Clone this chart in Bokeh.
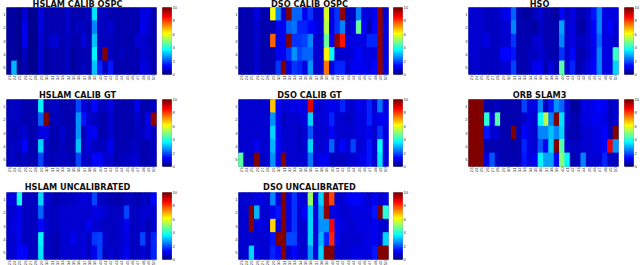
from bokeh.plotting import figure
from bokeh.layouts import column, row
from bokeh.embed import file_html
from bokeh.resources import INLINE
from bokeh.models import LinearColorMapper, FixedTicker, ColumnDataSource
from bokeh.core.properties import value
import numpy as np

x_labels = ["23","24","25","26","27","28","29","30","31","32","33","34","35","36","37","38","39","40","41","42","43","44","45","46","47","48","49","50"]
y_labels = ["1","2","3","4","5"]

hslam_calib_ospc = [
 [.4,.4,.3,.9,.3,.3,1.0,.5,.6,.6,.6,.9,.5,.6,.6,.7,3.5,.7,.7,.6,.5,.5,.6,.5,.5,1.0,1.0,.6],
 [.4,.4,.3,1.1,.3,.3,1.0,.5,.6,.6,.5,.8,.5,.7,.7,.6,2.5,.7,.7,.8,.5,.5,.6,.5,.5,1.2,.9,.6],
 [.4,.4,.3,1.1,.3,.3,.9,.5,.9,.9,.5,.7,.5,.6,1.0,.6,3.2,.7,.7,.7,.5,.5,.6,.5,.9,.9,.7,.6],
 [.4,.4,.3,.7,.3,.3,.8,.4,.5,.6,.6,.7,.4,.6,.6,.6,3.7,.7,10,.7,.5,.7,.5,.5,.5,.8,.7,.6],
 [.4,3.0,.3,.6,.3,.3,.8,.4,.5,.5,.6,.7,.4,.6,.7,.6,3.2,1.6,.7,1.5,.5,.5,.6,.5,.5,1.0,.8,.6],
]
dso_calib_ospc = [
 [.5,.5,.5,1.0,.6,.6,6.2,2.5,.8,10,2.2,2.2,1.2,1.8,.8,.8,5.8,1.0,1.8,9.7,.7,.7,2.5,1.0,.8,1.2,9.8,.8],
 [.5,.5,.5,.8,.6,.6,.6,1.2,1.1,2.3,2.4,1.7,1.7,1.4,1.1,.8,5.5,1.0,1.8,2.5,.7,1.0,4.8,1.3,.6,1.4,9.8,1.0],
 [.5,.5,.5,.8,.6,.6,7.8,1.0,1.2,9.9,1.8,1.8,2.0,2.5,.8,.8,4.8,1.3,9.8,8.5,1.0,1.0,1.0,1.0,1.6,1.6,9.8,1.0],
 [.5,.5,.5,.8,.6,.6,.6,1.2,1.1,1.8,2.7,2.0,2.2,2.2,.8,.8,6.3,3.9,.9,.9,.8,1.0,1.4,1.0,1.0,1.0,9.8,1.0],
 [.5,.5,.5,.8,.6,.6,.6,1.8,9.9,1.0,1.8,1.6,1.0,2.8,.8,.8,7.5,1.0,1.6,1.7,.8,1.1,1.1,1.1,1.0,1.4,9.8,1.0],
]
hso = [
 [.8,.9,.8,.7,.7,.7,1.0,1.1,2.2,.6,.4,.4,.7,.9,.6,.6,.4,1.4,.7,1.0,.5,.5,.9,1.5,2.5,1.0,1.0,1.0],
 [.8,.8,.8,.7,.7,.7,.8,.8,2.5,.6,.6,.5,.4,.7,.6,.6,.5,2.9,.9,1.0,.6,.4,.9,1.3,2.5,1.0,1.3,.9],
 [.8,.8,.8,1.0,.7,.7,.8,.8,1.8,.5,.5,.6,.8,.9,.6,.6,.6,2.6,.9,1.0,.7,.7,.9,1.2,2.2,1.0,1.0,.9],
 [.8,.8,.7,.7,.7,.7,1.4,1.4,1.5,.6,.6,.7,.7,.9,.7,.6,.6,1.8,.8,1.3,.6,.6,.9,1.1,2.6,1.0,1.0,4.3],
 [.7,.9,.7,.7,.7,.7,.8,.9,2.0,.6,.6,.7,1.1,1.1,.6,1.0,.5,4.6,.8,1.6,.6,.7,1.0,1.4,2.5,1.0,1.0,3.4],
]
hslam_calib_gt = [
 [.7,.7,.7,.6,.6,.6,3.6,.6,.7,.7,.6,.6,.6,2.0,1.0,.7,1.3,.7,.7,1.0,.5,.5,.6,.6,1.1,.5,.5,.7],
 [.7,.7,.7,.6,.6,.6,2.2,9.9,.6,.7,.6,.6,.6,2.7,1.5,.8,.7,.5,.6,.9,.5,.6,.6,.6,.8,.5,1.1,9.8],
 [.7,.6,.7,.8,.6,.6,1.0,1.0,.6,.6,.8,.6,.5,2.8,.5,1.2,1.1,.6,.6,.8,.6,.6,.6,.6,.7,.7,1.0,.7],
 [.7,.7,.7,1.3,.6,.6,3.3,.7,.6,.6,.7,.6,.5,3.2,.7,1.0,.7,.7,.7,1.2,.6,.6,.6,.7,.7,.6,.6,.7],
 [.7,.7,.6,.7,.6,.6,2.0,.7,.6,.7,.7,.7,.6,2.0,.9,.7,1.4,1.4,.9,.8,.6,.7,.7,.9,.9,.6,.6,.7],
]
dso_calib_gt = [
 [.9,.9,.9,.9,.9,.8,6.8,1.3,.9,1.0,1.0,1.1,1.0,9.0,.9,.9,1.0,1.1,1.0,1.7,.8,.9,1.1,1.0,1.6,.8,2.4,1.0],
 [.9,.8,.8,.8,.8,.9,2.8,1.2,.7,.9,.9,.9,1.0,3.4,.9,.9,1.0,1.6,.9,.9,.7,.9,1.0,1.0,1.6,1.0,1.2,1.2],
 [.9,.9,.9,.9,.9,.9,3.4,1.1,.8,.9,.8,.7,.8,2.1,.8,.9,.9,1.3,.9,.9,.8,.9,1.0,1.0,1.2,.8,1.8,1.0],
 [.9,.9,.9,1.1,.8,.9,3.1,1.3,.8,.9,.8,.7,.8,3.3,.8,.9,1.0,2.2,.9,1.4,.8,1.9,.9,1.0,1.5,.8,3.9,1.0],
 [4.6,.7,.7,9.9,.7,.8,2.7,1.1,9.9,.8,.8,.8,.9,2.4,.8,1.1,1.1,.7,.7,.7,.8,.9,1.0,1.1,1.5,.8,3.5,1.0],
]
orb_slam3 = [
 [9.9,9.9,9.9,.5,.5,.7,.5,.5,.5,.5,2.0,1.0,1.0,2.6,.7,1.5,2.8,2.2,.9,.4,.4,1.0,1.0,1.2,1.4,1.1,.7,.9],
 [9.9,9.9,9.9,4.2,1.0,4.6,.5,.5,.5,.5,.9,1.0,.9,3.9,5.6,2.5,9.9,3.5,.9,.5,.6,1.0,1.0,1.1,1.1,1.0,.7,.8],
 [9.9,9.9,9.9,1.5,.8,.8,.5,.5,9.9,.5,1.3,1.0,.9,2.6,2.6,3.2,2.6,3.4,.7,.5,.6,.9,.9,1.0,1.0,1.4,.7,9.9],
 [9.9,9.9,9.9,.5,.5,.6,.5,.5,.4,.5,1.6,1.0,.9,2.1,1.1,3.3,9.9,4.6,.9,.7,.7,.9,.9,1.0,1.0,1.4,8.8,2.7],
 [9.9,9.9,9.9,1.0,2.1,.7,.6,.6,.6,.5,1.5,1.0,1.1,3.6,2.9,2.9,1.1,5.0,3.7,.5,.7,2.6,.8,.9,.9,1.6,.7,.7],
]
hslam_uncalibrated = [
 [1.0,1.0,4.0,.7,.7,.7,3.3,.8,.7,.6,.7,.7,.7,.8,1.0,.8,1.9,.7,.7,.6,.6,.6,.7,.7,.6,.7,.7,1.4],
 [.8,.8,1.1,.7,.7,.7,2.3,.7,.7,.7,.8,.8,.8,.9,.9,.8,1.0,1.0,.9,.7,.7,.7,1.9,.7,.7,.8,.9,.9],
 [.9,1.0,1.1,.7,.7,.7,1.4,.8,.7,.7,.8,.8,.8,.9,.9,1.2,.9,.8,.7,.7,.7,.8,1.1,.7,.7,.8,.6,.9],
 [.8,.8,1.1,.7,.7,.7,3.6,.7,.7,.6,.8,.8,1.2,.8,1.0,.7,1.8,2.0,.8,.7,.7,.8,1.0,.7,.7,1.9,.7,1.6],
 [.8,.8,1.3,1.3,.7,.7,3.5,.7,.7,.6,.8,.8,.8,.8,1.0,.7,1.2,2.0,.7,.9,.7,.8,1.1,.7,.7,.8,.7,1.6],
]
dso_uncalibrated = [
 [.9,.9,.9,1.0,1.0,.8,2.6,1.0,9.9,1.0,1.8,1.0,.8,5.2,1.0,3.3,9.6,8.1,.9,.9,1.1,1.4,1.4,1.0,.8,1.2,.9,1.0],
 [.9,.9,9.9,3.1,.9,.8,1.2,1.5,9.9,1.0,1.8,.9,1.4,3.4,1.0,2.9,9.8,1.0,1.0,.8,.8,1.0,1.0,1.0,1.0,1.5,9.9,4.2],
 [.9,.9,9.9,1.0,1.0,.8,6.7,1.0,9.9,1.0,1.8,.9,.9,3.4,1.0,2.8,2.8,8.7,1.2,1.0,.9,.9,1.0,1.0,1.0,1.1,.9,.9],
 [.9,.9,.9,.9,.9,.9,1.5,9.9,9.9,2.0,2.0,.9,.9,3.4,1.0,3.0,1.6,8.3,1.1,.9,.9,.9,.9,1.0,1.0,1.1,.9,3.3],
 [.9,.9,3.4,1.0,.9,.9,1.6,1.3,9.9,.9,1.4,.9,.9,2.7,1.0,3.4,9.9,9.9,.9,.9,.9,1.0,1.0,1.0,1.0,1.5,9.9,9.9],
]

def jet_color(t):
    c = lambda v: int(round(255 * min(1.0, max(0.0, v))))
    return "#%02x%02x%02x" % (c(1.5 - abs(4*t - 3)), c(1.5 - abs(4*t - 2)), c(1.5 - abs(4*t - 1)))

jet = [jet_color(i / 63) for i in range(64)]
mapper = LinearColorMapper(palette=jet, low=0, high=10)
INK = "#55606e"


def style_axis(ax):
    ax.major_label_text_font_size = "4.2px"
    ax.major_label_text_color = "#333333"
    ax.major_label_text_font = "Liberation Sans"
    ax.major_label_standoff = 1
    ax.major_tick_out = 0
    ax.major_tick_in = 1
    ax.minor_tick_out = 0
    ax.minor_tick_in = 0
    ax.axis_line_color = None
    ax.major_tick_line_color = INK
    ax.major_tick_line_width = 0.3


def heat(name, matrix, left, right, top, bottom, title_shift):
    xs, ys, vals = [], [], []
    for r, vals_row in enumerate(matrix):
        for c, v in enumerate(vals_row):
            xs.append(c + 1); ys.append(r + 1); vals.append(v)
    p = figure(frame_width=150, frame_height=67, x_range=(0.5, 28.5), y_range=(5.5, 0.5),
               output_backend="svg", toolbar_location=None,
               min_border_left=left, min_border_right=right, min_border_top=top, min_border_bottom=bottom)
    p.rect("x", "y", 1, 1, source=ColumnDataSource(dict(x=xs, y=ys, v=vals)),
           fill_color={"field": "v", "transform": mapper},
           line_color={"field": "v", "transform": mapper}, line_width=1.0)
    p.grid.visible = False
    p.outline_line_color = INK
    p.outline_line_width = 0.6
    p.background_fill_color = None
    p.border_fill_color = None
    p.xaxis.ticker = FixedTicker(ticks=list(range(1, 29)))
    p.xaxis.major_label_overrides = {i + 1: s for i, s in enumerate(x_labels)}
    p.xaxis.major_label_orientation = np.pi / 2
    p.yaxis.ticker = FixedTicker(ticks=[1, 2, 3, 4, 5])
    p.yaxis.major_label_overrides = {i + 1: s for i, s in enumerate(y_labels)}
    style_axis(p.xaxis[0])
    style_axis(p.yaxis[0])
    p.text(x=[14.5], y=[0.5], text=[name], x_offset=-4, y_offset=title_shift, level="overlay",
           text_align="center", text_baseline="alphabetic",
           text_font=value("DejaVu Sans"), text_font_style="bold",
           text_font_size="8.2px", text_color="#111111")
    return p


def bar(right, top, bottom):
    levels = [(i + 0.5) * 10 / 64 for i in range(64)]
    p = figure(frame_width=9, frame_height=67, x_range=(0, 1), y_range=(0, 10),
               output_backend="svg", toolbar_location=None, x_axis_location=None, y_axis_location="right",
               min_border_left=0, min_border_right=right, min_border_top=top, min_border_bottom=bottom)
    p.rect(0.5, "y", 1, 10 / 64, source=ColumnDataSource(dict(y=levels)),
           fill_color={"field": "y", "transform": mapper},
           line_color={"field": "y", "transform": mapper}, line_width=1.0)
    p.grid.visible = False
    p.outline_line_color = INK
    p.outline_line_width = 0.6
    p.border_fill_color = None
    p.yaxis.ticker = FixedTicker(ticks=[0, 2, 4, 6, 8, 10])
    style_axis(p.yaxis[0])
    return p


rows_spec = [(7, 14, -3.5), (11, 10, -5), (16, 6, -6)]
panels = [
    [("HSLAM CALIB OSPC", hslam_calib_ospc), ("DSO CALIB OSPC", dso_calib_ospc), ("HSO", hso)],
    [("HSLAM CALIB GT", hslam_calib_gt), ("DSO CALIB GT", dso_calib_gt), ("ORB SLAM3", orb_slam3)],
    [("HSLAM UNCALIBRATED", hslam_uncalibrated), ("DSO UNCALIBRATED", dso_uncalibrated)],
]
h_spec = [(5, 6, 60), (7, 5, 60), (6, 6, 8)]

rows = []
for (top, bottom, shift), line in zip(rows_spec, panels):
    kids = []
    for (name, m), (l, r, br) in zip(line, h_spec):
        kids.append(heat(name, m, l, r, top, bottom, shift))
        kids.append(bar(br, top, bottom))
    rows.append(row(*kids, spacing=0))

page = column(*rows, spacing=0)
open("out.html", "w").write(file_html(page, INLINE))
